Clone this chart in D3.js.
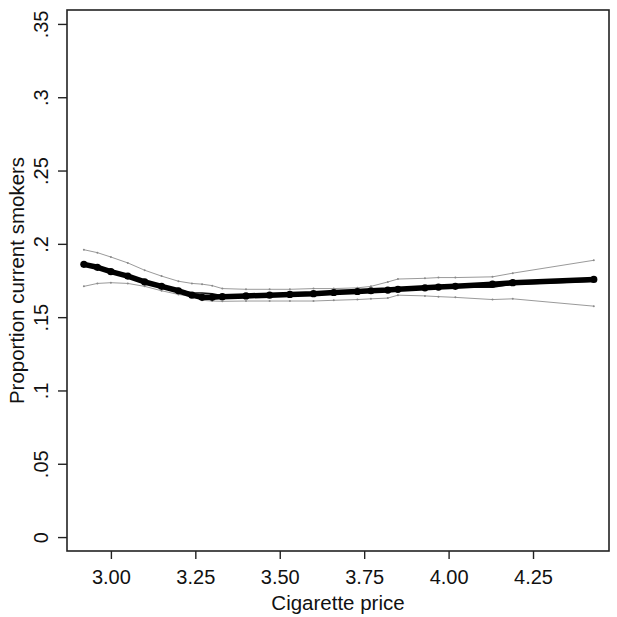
<!DOCTYPE html>
<html>
<head>
<meta charset="utf-8">
<script src="https://cdn.jsdelivr.net/npm/d3@7"></script>
<style>
  body { margin: 0; background: #fff; }
  svg text { font-family: "Liberation Sans", Arial, Helvetica, sans-serif; fill: #111; }
</style>
</head>
<body>
<div id="chart"></div>
<script>
// chart values
var prices = [2.92, 2.96, 3.00, 3.05, 3.10, 3.15, 3.20, 3.24, 3.27, 3.30, 3.33, 3.40, 3.47,
  3.53, 3.60, 3.66, 3.73, 3.77, 3.82, 3.85, 3.93, 3.97, 4.02, 4.13, 4.19, 4.43];
var estimate = [0.186, 0.184, 0.181, 0.178, 0.174, 0.171, 0.168, 0.165, 0.1635, 0.1635, 0.164, 0.1645, 0.165,
  0.1655, 0.166, 0.1668, 0.1675, 0.168, 0.1685, 0.169, 0.170, 0.1705, 0.171, 0.1725, 0.1735, 0.1757];
var altA = [0.1865, 0.1842, 0.1812, 0.1782, 0.1742, 0.1712, 0.1685, 0.1665, 0.1665, 0.166, 0.1645, 0.1648, 0.1652,
  0.1657, 0.1662, 0.167, 0.1677, 0.1682, 0.1687, 0.1692, 0.1702, 0.1707, 0.1712, 0.1728, 0.1738, 0.1752];
var altB = [0.1858, 0.1838, 0.1808, 0.1778, 0.1738, 0.1708, 0.1678, 0.1648, 0.1632, 0.1632, 0.1637, 0.1642, 0.1648,
  0.1653, 0.1658, 0.1665, 0.1672, 0.1677, 0.1682, 0.1687, 0.1697, 0.1702, 0.1705, 0.1705, 0.1725, 0.1745];
var upper = [0.196, 0.194, 0.191, 0.187, 0.182, 0.178, 0.1745, 0.173, 0.1725, 0.1715, 0.1695, 0.169, 0.169,
  0.169, 0.1695, 0.1695, 0.170, 0.171, 0.174, 0.176, 0.1765, 0.177, 0.177, 0.1775, 0.180, 0.1888];
var lower = [0.171, 0.173, 0.1735, 0.173, 0.171, 0.168, 0.1655, 0.164, 0.1615, 0.161, 0.1608, 0.161, 0.161,
  0.161, 0.161, 0.1615, 0.162, 0.1625, 0.163, 0.165, 0.1645, 0.164, 0.1635, 0.162, 0.1625, 0.1575];
var xTicks = [3.00, 3.25, 3.50, 3.75, 4.00, 4.25];
var yTicks = [0, 0.05, 0.1, 0.15, 0.2, 0.25, 0.3, 0.35];
var yTickLabels = ["0", ".05", ".1", ".15", ".2", ".25", ".3", ".35"];

var svgWidth = 617, svgHeight = 617;
var margin = {top: 10, right: 8, bottom: 66, left: 67};
var chartWidth = svgWidth - margin.left - margin.right;
var chartHeight = svgHeight - margin.top - margin.bottom;

var svg = d3.select("#chart").append("svg")
  .attr("width", svgWidth)
  .attr("height", svgHeight);

var chartGroup = svg.append("g")
  .attr("transform", `translate(${margin.left}, ${margin.top})`);

var xScale = d3.scaleLinear().domain([2.87, 4.475]).range([0, chartWidth]);
var yScale = d3.scaleLinear().domain([-0.0095, 0.3595]).range([chartHeight, 0]);

// axes
var bottomAxis = d3.axisBottom(xScale).tickValues(xTicks)
  .tickFormat(d3.format(".2f")).tickSize(8).tickSizeOuter(0);
var leftAxis = d3.axisLeft(yScale).tickValues(yTicks)
  .tickFormat((d, i) => yTickLabels[i]).tickSize(9).tickSizeOuter(0);

var xg = chartGroup.append("g")
  .attr("transform", `translate(0, ${chartHeight})`)
  .call(bottomAxis);
xg.select(".domain").remove();
xg.selectAll("line").attr("stroke", "#222").attr("stroke-width", 1.4);
xg.selectAll("text").attr("font-size", "20px").attr("dy", "1.08em");

var yg = chartGroup.append("g").call(leftAxis);
yg.select(".domain").remove();
yg.selectAll("line").attr("stroke", "#222").attr("stroke-width", 1.4);
yg.selectAll("text")
  .attr("font-size", "20px")
  .attr("text-anchor", "middle")
  .attr("x", null).attr("dy", null)
  .attr("transform", "translate(-19, 0) rotate(-90)");

// frame
chartGroup.append("rect")
  .attr("width", chartWidth)
  .attr("height", chartHeight)
  .attr("fill", "none")
  .attr("stroke", "#222")
  .attr("stroke-width", 1.6);

var rows = prices.map((p, i) => ({p: p, est: estimate[i], a: altA[i], b: altB[i], up: upper[i], lo: lower[i]}));

function lineFor(key) {
  return d3.line().x(d => xScale(d.p)).y(d => yScale(d[key]));
}

// confidence bounds
["up", "lo"].forEach(k => {
  chartGroup.append("path").datum(rows)
    .attr("d", lineFor(k))
    .attr("fill", "none").attr("stroke", "#9a9a9a").attr("stroke-width", 1);
  chartGroup.selectAll(".dot-" + k).data(rows).enter().append("circle")
    .attr("cx", d => xScale(d.p)).attr("cy", d => yScale(d[k]))
    .attr("r", 1).attr("fill", "#8a8a8a");
});

// other estimates
["a", "b"].forEach(k => {
  chartGroup.append("path").datum(rows)
    .attr("d", lineFor(k))
    .attr("fill", "none").attr("stroke", "#111").attr("stroke-width", 1.6);
});

// main estimate
chartGroup.append("path").datum(rows)
  .attr("d", lineFor("est"))
  .attr("fill", "none").attr("stroke", "#000").attr("stroke-width", 5.5)
  .attr("stroke-linejoin", "round");
chartGroup.selectAll(".dot-est").data(rows).enter().append("circle")
  .attr("cx", d => xScale(d.p)).attr("cy", d => yScale(d.est))
  .attr("r", 3.6).attr("fill", "#000");

// axis titles
svg.append("text")
  .attr("x", margin.left + chartWidth / 2)
  .attr("y", 610)
  .attr("text-anchor", "middle")
  .attr("font-size", "20.5px")
  .text("Cigarette price");

svg.append("text")
  .attr("transform", `translate(24, ${margin.top + chartHeight / 2}) rotate(-90)`)
  .attr("text-anchor", "middle")
  .attr("font-size", "20.5px")
  .text("Proportion current smokers");
</script>
</body>
</html>
